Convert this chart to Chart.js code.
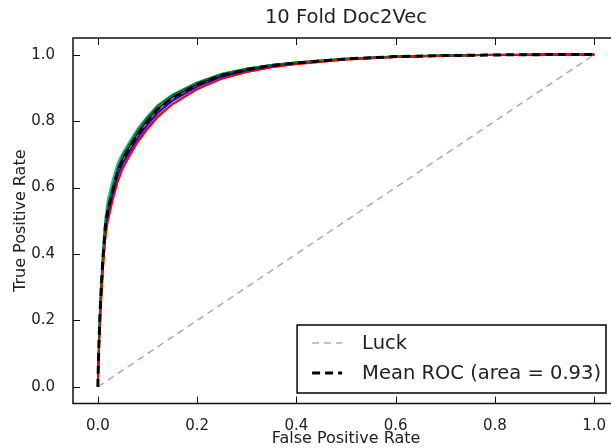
<!DOCTYPE html>
<html lang="en">
<head>
<meta charset="UTF-8">
<title>10 Fold Doc2Vec</title>
<script src="https://cdn.jsdelivr.net/npm/chart.js@4.4.0/dist/chart.umd.min.js"></script>
<style type="text/css">
	html, body {
		margin: 0;
		padding: 0;
		background: #fff;
		overflow: hidden;
	}
	#wrap {
		width: 625px;
		height: 448px;
	}
</style>
</head>
<body>
<div id="wrap">
	<canvas id="rocChart" width="625" height="448"></canvas>
</div>
<script>
// false positive rate grid (shared by all folds and the mean curve)
const fpr = [0, 0.002, 0.005, 0.01, 0.015, 0.02, 0.03, 0.04, 0.05, 0.06, 0.08, 0.1, 0.12,
	0.15, 0.2, 0.25, 0.3, 0.35, 0.4, 0.5, 0.6, 0.7, 0.8, 0.9, 1.0];

// true positive rate of each fold
const fold1 = [0, 0.13, 0.25, 0.37, 0.47, 0.52, 0.585, 0.64, 0.675, 0.70, 0.75, 0.79, 0.825, 0.862, 0.905, 0.934, 0.952, 0.965, 0.974, 0.986, 0.993, 0.997, 0.999, 1.0, 1.0];
const fold2 = [0, 0.11, 0.24, 0.39, 0.49, 0.545, 0.605, 0.66, 0.695, 0.722, 0.772, 0.81, 0.845, 0.878, 0.915, 0.942, 0.958, 0.969, 0.977, 0.988, 0.995, 0.998, 0.999, 1.0, 1.0];
const fold3 = [0, 0.10, 0.21, 0.35, 0.45, 0.50, 0.565, 0.62, 0.66, 0.69, 0.74, 0.78, 0.815, 0.852, 0.897, 0.928, 0.948, 0.962, 0.971, 0.985, 0.993, 0.996, 0.999, 1.0, 1.0];
const fold4 = [0, 0.15, 0.28, 0.41, 0.51, 0.565, 0.625, 0.675, 0.705, 0.73, 0.778, 0.815, 0.848, 0.88, 0.917, 0.943, 0.958, 0.969, 0.977, 0.988, 0.995, 0.998, 1.0, 1.0, 1.0];
const fold5 = [0, 0.12, 0.23, 0.375, 0.475, 0.525, 0.585, 0.645, 0.68, 0.705, 0.757, 0.797, 0.832, 0.868, 0.908, 0.937, 0.954, 0.966, 0.975, 0.987, 0.994, 0.997, 0.999, 1.0, 1.0];
const fold6 = [0, 0.12, 0.245, 0.38, 0.48, 0.53, 0.59, 0.648, 0.685, 0.71, 0.76, 0.80, 0.835, 0.87, 0.91, 0.938, 0.955, 0.967, 0.975, 0.987, 0.994, 0.997, 0.999, 1.0, 1.0];
const fold7 = [0, 0.125, 0.25, 0.385, 0.485, 0.535, 0.595, 0.652, 0.688, 0.714, 0.763, 0.803, 0.837, 0.872, 0.911, 0.939, 0.956, 0.968, 0.976, 0.987, 0.994, 0.997, 0.999, 1.0, 1.0];
const fold8 = [0, 0.11, 0.23, 0.365, 0.465, 0.515, 0.578, 0.635, 0.672, 0.698, 0.748, 0.788, 0.823, 0.86, 0.903, 0.933, 0.951, 0.964, 0.973, 0.986, 0.993, 0.997, 0.999, 1.0, 1.0];
const fold9 = [0, 0.13, 0.26, 0.395, 0.495, 0.545, 0.605, 0.66, 0.697, 0.722, 0.772, 0.812, 0.845, 0.879, 0.916, 0.942, 0.958, 0.969, 0.977, 0.988, 0.995, 0.998, 1.0, 1.0, 1.0];
const fold10 = [0, 0.09, 0.2, 0.34, 0.44, 0.495, 0.56, 0.615, 0.655, 0.683, 0.735, 0.775, 0.81, 0.85, 0.895, 0.927, 0.947, 0.961, 0.971, 0.985, 0.992, 0.996, 0.999, 1.0, 1.0];

// mean curve
const meanTpr = [0, 0.12, 0.24, 0.38, 0.48, 0.53, 0.59, 0.65, 0.685, 0.71, 0.76, 0.80, 0.835, 0.87, 0.91, 0.938, 0.955, 0.967, 0.975, 0.987, 0.994, 0.997, 0.999, 1.0, 1.0];

// diagonal
const luckX = [0, 1];
const luckY = [0, 1];

const tickVals = [0, 0.2, 0.4, 0.6, 0.8, 1.0];
const luckLabel = 'Luck';
const meanLabel = 'Mean ROC (area = 0.93)';

// matplotlib classic colour cycle b g r c m y k
const foldColors = ['#0000ff', '#008000', '#ff0000', '#00bfbf', '#bf00bf', '#bfbf00', '#000000', '#0000ff', '#008000', '#ff0000'];
const folds = [fold1, fold2, fold3, fold4, fold5, fold6, fold7, fold8, fold9, fold10];

const FONT = '"DejaVu Sans", "Liberation Sans", sans-serif';
const TXT = '#222';

function pts(xs, ys) {
	return xs.map((x, i) => ({x: x, y: ys[i]}));
}

let datasets = [];
folds.forEach(function(f, i) {
	datasets.push({
		label: 'fold ' + (i + 1),
		data: pts(fpr, f),
		borderColor: foldColors[i],
		borderWidth: 1.6,
		order: 12 - i
	});
});
datasets.push({
	label: luckLabel,
	data: pts(luckX, luckY),
	borderColor: '#b0b0b0',
	borderWidth: 1.6,
	borderDash: [7, 5],
	order: 1
});
datasets.push({
	label: meanLabel,
	data: pts(fpr, meanTpr),
	borderColor: '#000000',
	borderWidth: 3,
	borderDash: [8, 5],
	order: 0
});

// frame, inward ticks and the lower-right legend
const framePlugin = {
	id: 'frame',
	afterDraw(chart) {
		const ctx = chart.ctx;
		const ca = chart.chartArea;
		const xs = chart.scales.x, ys = chart.scales.y;
		ctx.save();
		ctx.strokeStyle = '#111';
		ctx.lineWidth = 1;
		ctx.setLineDash([]);
		ctx.beginPath();
		tickVals.forEach(function(v) {
			const px = Math.round(xs.getPixelForValue(v)) + 0.5;
			ctx.moveTo(px, ca.bottom); ctx.lineTo(px, ca.bottom - 7);
			ctx.moveTo(px, ca.top); ctx.lineTo(px, ca.top + 7);
			const py = Math.round(ys.getPixelForValue(v)) + 0.5;
			ctx.moveTo(ca.left, py); ctx.lineTo(ca.left + 7, py);
			ctx.moveTo(ca.right, py); ctx.lineTo(ca.right - 7, py);
		});
		ctx.stroke();
		ctx.lineWidth = 1.5;
		ctx.strokeRect(ca.left, ca.top, ca.right - ca.left, ca.bottom - ca.top);

		// legend
		ctx.font = '19.5px ' + FONT;
		const entries = chart.data.datasets.filter(d => d.label === luckLabel || d.label === meanLabel);
		let tw = 0;
		entries.forEach(d => { tw = Math.max(tw, ctx.measureText(d.label).width); });
		const w = 65 + tw + 5, h = 68;
		const right = ca.right - 13, bottom = ca.bottom - 10.5;
		const left = right - w, top = bottom - h;
		ctx.fillStyle = '#fff';
		ctx.fillRect(left, top, w, h);
		ctx.strokeStyle = '#000';
		ctx.lineWidth = 1.5;
		ctx.strokeRect(left, top, w, h);
		entries.forEach(function(d, i) {
			const y = top + 18 + i * 30;
			ctx.beginPath();
			ctx.strokeStyle = d.borderColor;
			ctx.lineWidth = d.borderWidth;
			ctx.setLineDash(d.borderDash || []);
			ctx.moveTo(left + 15, y);
			ctx.lineTo(left + 45, y);
			ctx.stroke();
			ctx.setLineDash([]);
			ctx.fillStyle = TXT;
			ctx.textBaseline = 'middle';
			ctx.textAlign = 'left';
			ctx.fillText(d.label, left + 65, y + 1);
		});
		ctx.restore();
	}
};

const ctx = document.getElementById('rocChart');
const rocChart = new Chart(ctx, {
	type: 'scatter',
	data: { datasets: datasets },
	options: {
		responsive: false,
		animation: false,
		showLine: true,
		elements: {
			point: { radius: 0, hoverRadius: 0 },
			line: { tension: 0, fill: false }
		},
		layout: { padding: { left: 0, right: 6, top: 0, bottom: 0 } },
		plugins: {
			legend: { display: false },
			tooltip: { enabled: false },
			title: {
				display: true,
				fullSize: false,
				text: '10 Fold Doc2Vec',
				color: TXT,
				font: { family: FONT, size: 19.5, weight: 'normal' },
				padding: { top: 6.6, bottom: 8.0 }
			}
		},
		scales: {
			x: {
				type: 'linear',
				min: -0.05,
				max: 1.05,
				grid: { display: false },
				border: { display: false },
				afterBuildTicks: s => { s.ticks = tickVals.map(v => ({value: v})); },
				afterFit: s => { s.height = 44.5; },
				ticks: {
					color: TXT,
					padding: 6,
					maxRotation: 0,
					font: { family: FONT, size: 15 },
					callback: v => v.toFixed(1)
				},
				title: {
					display: true,
					text: 'False Positive Rate',
					color: TXT,
					font: { family: FONT, size: 16 },
					padding: 0
				}
			},
			y: {
				type: 'linear',
				min: -0.05,
				max: 1.05,
				grid: { display: false },
				border: { display: false },
				afterBuildTicks: s => { s.ticks = tickVals.map(v => ({value: v})); },
				afterFit: s => { s.width = 73; },
				ticks: {
					color: TXT,
					padding: 10,
					font: { family: FONT, size: 15 },
					callback: v => v.toFixed(1)
				},
				title: {
					display: true,
					text: 'True Positive Rate',
					color: TXT,
					font: { family: FONT, size: 16 },
					padding: { top: 11.4, bottom: 0 }
				}
			}
		}
	},
	plugins: [framePlugin]
});
</script>
</body>
</html>
